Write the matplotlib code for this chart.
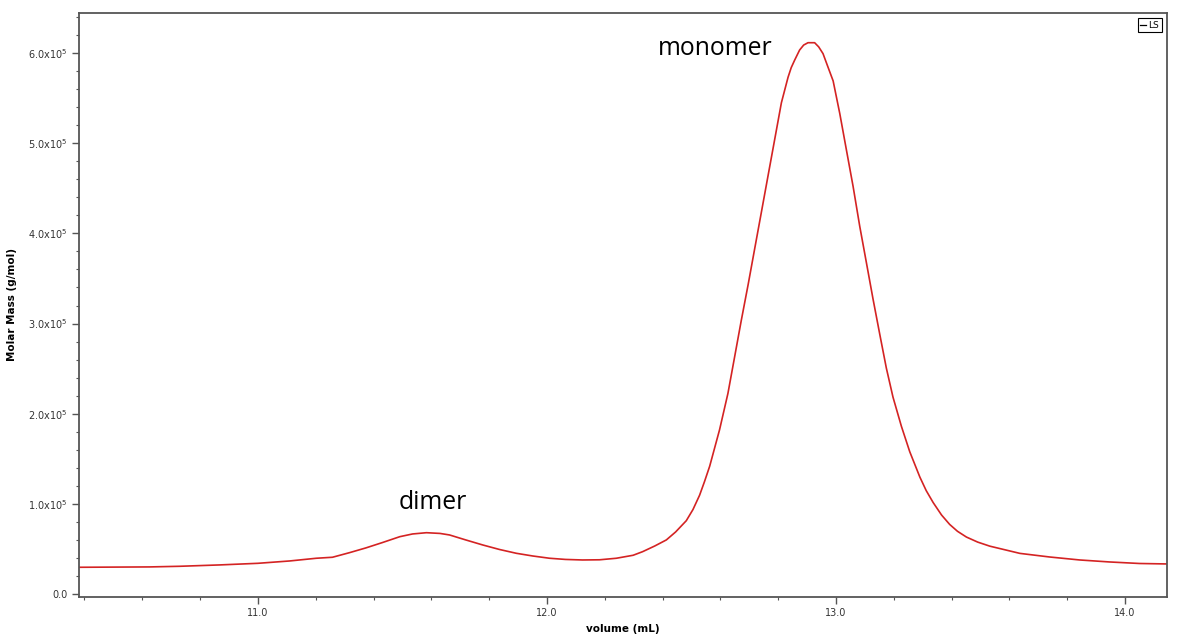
import matplotlib
matplotlib.use("Agg")
import matplotlib.pyplot as plt
from matplotlib.lines import Line2D
from matplotlib.ticker import MultipleLocator, FuncFormatter

# Data (volume in mL, molar mass in 1e5 g/mol)
volume = [10.380, 10.625, 10.729, 10.867, 11.000, 11.110, 11.202, 11.258,
          11.317, 11.373, 11.430, 11.491, 11.535, 11.583, 11.630, 11.663,
          11.719, 11.778, 11.836, 11.894, 11.951, 12.009, 12.064, 12.123,
          12.182, 12.240, 12.298, 12.331, 12.373, 12.413, 12.445, 12.482,
          12.505, 12.528, 12.545, 12.563, 12.597, 12.626, 12.649, 12.672,
          12.696, 12.719, 12.742, 12.765, 12.788, 12.811, 12.834, 12.845,
          12.857, 12.874, 12.888, 12.903, 12.926, 12.940, 12.955, 12.970,
          12.990, 13.013, 13.036, 13.059, 13.082, 13.105, 13.128, 13.152,
          13.174, 13.197, 13.226, 13.255, 13.290, 13.312, 13.336, 13.365,
          13.393, 13.420, 13.451, 13.490, 13.532, 13.636, 13.739, 13.843,
          13.946, 14.050, 14.143]
molar_mass = [0.301, 0.305, 0.312, 0.327, 0.345, 0.371, 0.401, 0.412,
              0.463, 0.515, 0.574, 0.640, 0.670, 0.684, 0.676, 0.659,
              0.604, 0.548, 0.498, 0.456, 0.426, 0.401, 0.388, 0.382,
              0.384, 0.401, 0.434, 0.474, 0.537, 0.604, 0.692, 0.817,
              0.940, 1.099, 1.250, 1.421, 1.823, 2.226, 2.628, 3.031,
              3.433, 3.836, 4.238, 4.641, 5.043, 5.446, 5.728, 5.835,
              5.919, 6.030, 6.085, 6.111, 6.111, 6.065, 5.990, 5.860,
              5.688, 5.326, 4.922, 4.520, 4.078, 3.676, 3.272, 2.870,
              2.508, 2.186, 1.864, 1.581, 1.300, 1.150, 1.018, 0.880,
              0.776, 0.700, 0.636, 0.580, 0.535, 0.455, 0.415, 0.382,
              0.360, 0.343, 0.338]
molar_mass = [m * 1e5 for m in molar_mass]

peak_labels = ["dimer", "monomer"]
peak_pos = [(11.606, 0.943e5), (12.582, 5.97e5)]

fig = plt.figure(figsize=(11.8, 6.44), dpi=100)
ax = fig.add_axes([0.0669, 0.073, 0.9221, 0.9068])

ax.plot(volume, molar_mass, color="#d42323", lw=1.2, label="LS",
        solid_joinstyle="round")

ax.set_xlim(10.381, 14.145)
ax.set_ylim(-2800, 6.44e5)

ax.xaxis.set_major_locator(MultipleLocator(1.0))
ax.xaxis.set_minor_locator(MultipleLocator(0.2))
ax.yaxis.set_major_locator(MultipleLocator(1e5))
ax.yaxis.set_minor_locator(MultipleLocator(2e4))


def yfmt(v, pos):
    if abs(v) < 1:
        return "0.0"
    return r"$\mathregular{%.1fx10^{5}}$" % (v / 1e5)


ax.yaxis.set_major_formatter(FuncFormatter(yfmt))
ax.xaxis.set_major_formatter(FuncFormatter(lambda v, p: "%.1f" % v))

for s in ax.spines.values():
    s.set_color("#555555")
    s.set_linewidth(1.3)

ax.tick_params(which="major", length=5, width=1, color="#555555",
               labelsize=7, labelcolor="#333333", pad=3)
ax.tick_params(which="minor", length=2.5, width=0.8, color="#555555")

ax.set_xlabel("volume (mL)", fontsize=7.5, fontweight="bold", labelpad=4)
ax.set_ylabel("Molar Mass (g/mol)", fontsize=7.5, fontweight="bold", labelpad=8)

for lab, (px, py) in zip(peak_labels, peak_pos):
    ax.text(px, py, lab, fontsize=17.8, family=["Open Sans", "DejaVu Sans"],
            ha="center", va="baseline", color="black")

handle = Line2D([], [], color="black", lw=0.9)
leg = ax.legend(handles=[handle], labels=["LS"], loc="upper right",
                fontsize=6.5, handlelength=0.7, handletextpad=0.25,
                fancybox=False, edgecolor="black", borderpad=0.25,
                borderaxespad=0.6, framealpha=1)
leg.get_frame().set_linewidth(0.8)

fig.savefig("out.png", dpi=100)
plt.close(fig)
